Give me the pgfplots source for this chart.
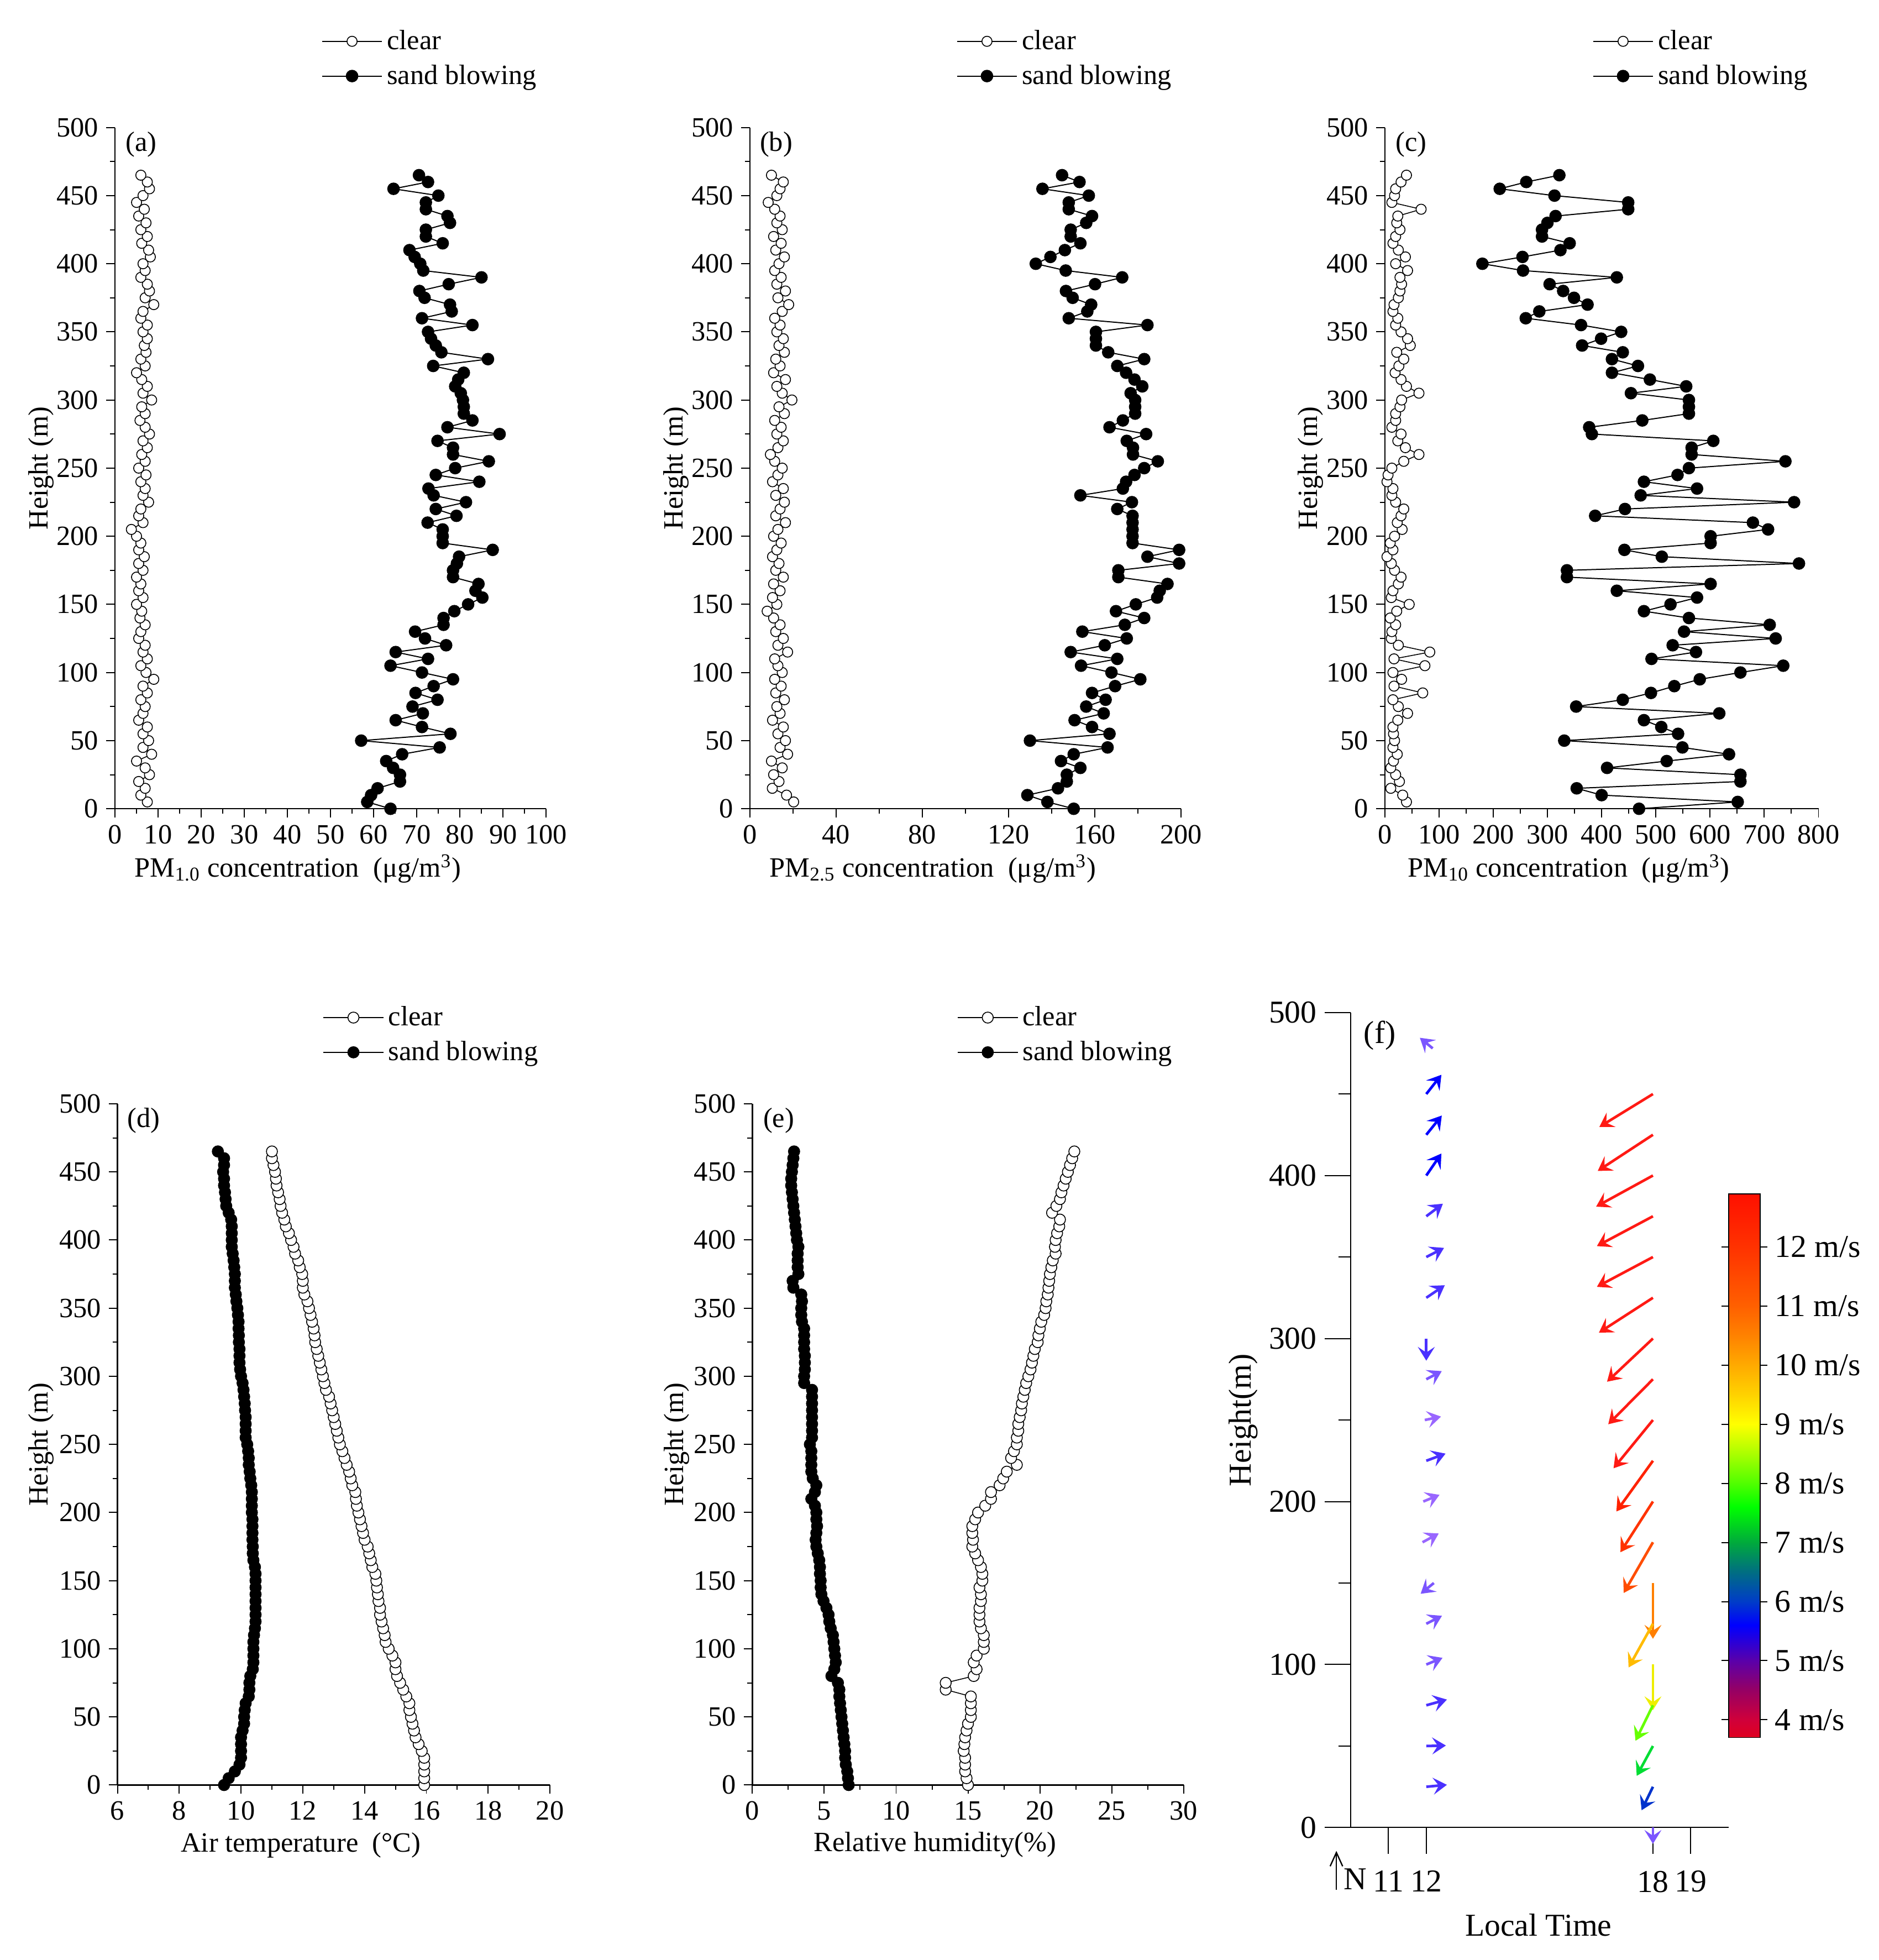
\documentclass[border=0pt]{standalone}
\usepackage{fontspec}
\setmainfont{Liberation Serif}
\usepackage{pgfplots}
\usepackage{pgfplotstable}
\pgfplotsset{compat=1.18}
\usetikzlibrary{arrows.meta}

\newcommand\fa{\fontsize{12.7}{15}\selectfont}
\newcommand\ff{\fontsize{14.5}{17}\selectfont}

\definecolor{wBlue}{RGB}{0,0,255}
\definecolor{wViol}{RGB}{74,48,255}
\definecolor{wLav}{RGB}{123,85,255}
\definecolor{wLite}{RGB}{153,102,255}
\definecolor{wR1}{RGB}{255,26,20}
\definecolor{wR2}{RGB}{255,34,0}
\definecolor{wR3}{RGB}{255,51,0}
\definecolor{wR4}{RGB}{255,77,0}
\definecolor{wOr}{RGB}{255,127,0}
\definecolor{wOY}{RGB}{255,187,0}
\definecolor{wYe}{RGB}{238,238,0}
\definecolor{wLi}{RGB}{102,255,0}
\definecolor{wGr}{RGB}{0,221,51}
\definecolor{wBl}{RGB}{0,51,204}

\pgfplotsset{
  /pgf/number format/assume math mode=true,
  /pgf/number format/1000 sep={},
  prof/.style={
    scale only axis, anchor=south west,
    width=69mm, height=109mm,
    axis lines=left, axis line style={-, line width=0.6pt},
    ymin=0, ymax=500, ytick={0,50,...,500},
    minor x tick num=1, minor y tick num=1,
    tick align=outside, major tick length=1.4mm, minor tick length=0.8mm,
    tick style={black, line width=0.5pt},
    font=\fa, tick label style={font=\fa}, label style={font=\fa},
    ylabel={Height (m)},
    ylabel style={at={(axis description cs:-0.171,0.5)}, anchor=center},
    xlabel style={at={(axis description cs:0.424,-0.088)}, anchor=center},
    legend style={draw=none, fill=none, at={(0.478,1.101)}, anchor=west,
      font=\fa, row sep=1.5pt, inner sep=0pt},
    legend cell align=left,
    legend image code/.code={\draw[mark repeat=2,mark phase=2,##1]
      plot coordinates {(0mm,0mm) (4.8mm,0mm) (9.6mm,0mm)};},
    clip=false,
  },
  clr/.style={black, line width=0.4pt, mark=*, mark size=2.3pt,
    mark options={fill=white, line width=0.4pt}},
  snd/.style={black, line width=0.5pt, mark=*, mark size=2.6pt,
    mark options={fill=black}},
  wind/.style={quiver={u=\thisrow{u},v=\thisrow{v}},
    -{Stealth[length=2.2mm,width=2.7mm,inset=0.9mm]}, line width=1.2pt},
}

% PM1.0 profiles: height, clear, sand blowing
\pgfplotstableread{
h c s
0 nan 63.9
5 7.5 58.5
10 6.0 59.4
15 7.0 60.9
20 5.5 66.1
25 8.0 66.1
30 7.0 64.5
35 5.0 62.9
40 8.5 66.6
45 6.5 75.3
50 7.8 57.1
55 6.5 77.8
60 7.5 71.2
65 5.5 65.1
70 6.5 71.4
75 7.0 69.0
80 6.0 74.8
85 7.5 69.7
90 6.5 73.9
95 9.0 78.4
100 7.2 71.2
105 6.0 63.9
110 7.5 72.6
115 6.5 65.1
120 7.0 76.8
125 5.5 71.9
130 6.0 69.6
135 7.0 76.2
140 5.8 76.2
145 6.2 78.7
150 5.0 81.9
155 6.5 85.2
160 5.5 83.6
165 6.0 84.3
170 5.0 78.4
175 6.5 78.4
180 5.5 79.3
185 6.8 79.8
190 5.5 87.6
195 6.0 76.0
200 5.0 76.0
205 3.8 76.0
210 6.5 72.5
215 5.5 79.2
220 6.0 74.4
225 7.8 81.4
230 6.5 73.9
235 7.0 72.7
240 6.0 84.5
245 7.2 74.4
250 5.5 78.9
255 7.0 86.7
260 6.2 78.4
265 7.5 78.4
270 6.5 74.8
275 8.0 89.2
280 7.0 77.1
285 5.8 82.9
290 7.0 80.9
295 6.2 80.9
300 8.5 80.7
305 6.5 80.2
310 7.5 78.9
315 6.2 79.6
320 5.0 80.9
325 7.0 73.8
330 6.0 86.5
335 7.2 75.7
340 6.8 74.4
345 7.5 73.3
350 6.5 72.6
355 7.5 82.9
360 6.0 71.2
365 6.5 78.1
370 9.0 77.7
375 7.0 71.8
380 8.0 70.6
385 7.5 77.4
390 6.0 85.0
395 7.0 71.5
400 6.5 70.8
405 8.2 69.5
410 7.8 68.3
415 6.2 76.0
420 7.5 72.1
425 6.0 72.1
430 7.2 77.7
435 5.5 77.1
440 6.8 72.1
445 5.0 72.1
450 6.5 75.0
455 8.0 64.6
460 7.5 72.6
465 6.0 70.5
}\tabA

% PM2.5
\pgfplotstableread{
h c s
0 nan 150.2
5 20.3 138.0
10 17.0 128.7
15 10.4 142.9
20 13.5 147.0
25 11.0 147.0
30 15.0 153.3
35 10.0 144.3
40 17.5 150.2
45 14.0 165.9
50 16.5 129.9
55 13.0 166.8
60 15.5 158.7
65 10.5 150.6
70 14.0 164.1
75 12.5 156.0
80 16.0 165.0
85 12.0 158.7
90 14.5 169.4
95 11.5 181.1
100 15.0 167.7
105 13.0 153.6
110 11.5 170.4
115 17.5 148.8
120 13.0 164.6
125 15.5 174.8
130 12.0 154.2
135 14.0 173.9
140 11.0 182.9
145 8.0 169.8
150 12.5 179.0
155 10.5 188.9
160 14.0 190.1
165 11.0 193.7
170 15.5 170.9
175 12.0 170.9
180 13.5 199.1
185 10.5 184.4
190 12.5 199.1
195 14.5 177.5
200 11.0 177.5
205 13.0 177.5
210 16.5 177.5
215 12.0 177.5
220 14.0 170.4
225 16.0 177.2
230 12.0 153.3
235 15.5 173.0
240 10.5 174.5
245 13.0 178.4
250 15.0 182.9
255 11.5 189.2
260 9.5 177.7
265 13.0 177.7
270 15.5 174.8
275 12.5 183.8
280 14.5 166.8
285 11.5 173.0
290 16.0 178.7
295 13.5 178.7
300 19.5 178.7
305 15.0 176.6
310 12.5 182.0
315 16.5 178.4
320 11.0 174.5
325 14.0 170.4
330 12.0 182.9
335 16.0 166.2
340 13.5 160.5
345 15.5 160.5
350 12.5 160.5
355 14.0 184.4
360 11.5 147.9
365 15.0 156.5
370 18.0 158.3
375 13.0 149.7
380 16.5 146.6
385 12.5 160.1
390 14.5 172.7
395 11.5 146.5
400 13.5 132.6
405 16.0 139.4
410 12.0 146.1
415 14.5 153.3
420 11.0 148.8
425 15.0 148.8
430 12.5 156.0
435 14.0 158.7
440 11.5 147.9
445 8.5 147.9
450 12.5 157.2
455 14.0 135.7
460 15.5 152.9
465 10.0 144.8
}\tabB

% PM10
\pgfplotstableread{
h c s
0 nan 469
5 40 651
10 33 400
15 11 354
20 27 656
25 20 656
30 11 410
35 16 520
40 23 635
45 15 549
50 18 331
55 16 541
60 15 510
65 24 478
70 42 617
75 25 353
80 15 439
85 70 491
90 17 534
95 31 581
100 15 656
105 74 735
110 17 492
115 83 574
120 25 531
125 12 721
130 13 552
135 20 710
140 10 561
145 22 478
150 45 527
155 12 576
160 15 428
165 25 601
170 30 336
175 18 336
180 12 764
185 4 511
190 15 442
195 10 601
200 18 601
205 32 707
210 23 679
215 30 388
220 35 443
225 20 755
230 13 472
235 15 576
240 4 478
245 6 540
250 13 561
255 35 739
260 63 566
265 38 566
270 24 606
275 30 382
280 13 377
285 20 475
290 20 561
295 28 561
300 31 561
305 63 454
310 40 556
315 30 489
320 19 419
325 26 467
330 35 419
335 22 439
340 47 364
345 42 399
350 30 436
355 20 362
360 24 260
365 15 285
370 17 374
375 25 349
380 28 329
385 31 304
390 28 428
395 42 255
400 20 180
405 38 254
410 25 324
415 15 341
420 20 290
425 28 290
430 22 300
435 24 315
440 67 449
445 13 449
450 18 313
455 20 212
460 30 261
465 40 322
}\tabC

% air temperature
\pgfplotstableread{
h c s
0 15.93 9.45
5 15.93 9.6
10 15.93 9.8
15 15.93 9.95
20 15.93 10.0
25 15.85 10.0
30 15.75 10.0
35 15.65 10.0
40 15.6 10.05
45 15.55 10.1
50 15.5 10.1
55 15.45 10.12
60 15.45 10.15
65 15.35 10.25
70 15.25 10.27
75 15.15 10.27
80 15.05 10.3
85 15.0 10.38
90 15.0 10.4
95 14.9 10.4
100 14.78 10.4
105 14.68 10.4
110 14.65 10.42
115 14.6 10.45
120 14.55 10.47
125 14.5 10.47
130 14.5 10.47
135 14.45 10.47
140 14.43 10.47
145 14.4 10.47
150 14.38 10.47
155 14.35 10.47
160 14.25 10.45
165 14.2 10.4
170 14.15 10.38
175 14.1 10.38
180 14.0 10.37
185 13.95 10.37
190 13.9 10.37
195 13.85 10.37
200 13.8 10.35
205 13.75 10.35
210 13.72 10.35
215 13.7 10.35
220 13.6 10.33
225 13.55 10.3
230 13.5 10.28
235 13.42 10.25
240 13.35 10.25
245 13.28 10.23
250 13.2 10.2
255 13.15 10.15
260 13.1 10.15
265 13.05 10.15
270 13.0 10.15
275 12.95 10.13
280 12.9 10.12
285 12.85 10.1
290 12.75 10.08
295 12.7 10.05
300 12.65 10.0
305 12.6 9.97
310 12.55 9.95
315 12.5 9.95
320 12.45 9.95
325 12.4 9.93
330 12.38 9.93
335 12.35 9.92
340 12.3 9.92
345 12.25 9.9
350 12.2 9.88
355 12.15 9.85
360 12.05 9.83
365 12.0 9.8
370 12.0 9.8
375 11.98 9.8
380 11.9 9.78
385 11.85 9.76
390 11.75 9.73
395 11.7 9.7
400 11.62 9.7
405 11.55 9.7
410 11.45 9.7
415 11.4 9.68
420 11.33 9.6
425 11.28 9.52
430 11.25 9.5
435 11.2 9.48
440 11.15 9.45
445 11.13 9.45
450 11.1 9.42
455 11.05 9.45
460 11.0 9.45
465 11.0 9.25
}\tabD

% relative humidity
\pgfplotstableread{
h c s
0 15.0 6.7
5 14.9 6.65
10 14.8 6.6
15 14.8 6.5
20 14.8 6.45
25 14.7 6.45
30 14.75 6.4
35 14.8 6.35
40 14.9 6.3
45 15.0 6.25
50 15.2 6.2
55 15.2 6.15
60 15.2 6.1
65 15.2 6.05
70 13.45 6.05
75 13.45 5.95
80 15.4 5.5
85 15.6 5.7
90 15.4 5.8
95 15.6 5.75
100 16.1 5.7
105 16.1 5.65
110 16.1 5.6
115 15.9 5.45
120 15.8 5.35
125 15.8 5.3
130 15.8 5.15
135 15.9 4.95
140 15.9 4.8
145 15.8 4.75
150 16.0 4.75
155 16.0 4.7
160 15.9 4.7
165 15.7 4.65
170 15.5 4.55
175 15.3 4.45
180 15.35 4.4
185 15.3 4.45
190 15.3 4.5
195 15.5 4.45
200 15.7 4.45
205 16.2 4.35
210 16.6 4.1
215 16.6 4.35
220 17.2 4.45
225 17.45 4.2
230 17.7 4.1
235 18.4 4.1
240 18.0 4.1
245 18.2 4.1
250 18.4 4.0
255 18.4 4.15
260 18.5 4.15
265 18.5 4.15
270 18.6 4.15
275 18.7 4.15
280 18.75 4.15
285 18.85 4.15
290 18.95 4.15
295 19.05 3.6
300 19.2 3.6
305 19.35 3.65
310 19.45 3.65
315 19.55 3.65
320 19.65 3.6
325 19.85 3.6
330 19.9 3.6
335 20.0 3.6
340 20.1 3.45
345 20.3 3.4
350 20.4 3.4
355 20.45 3.45
360 20.55 3.4
365 20.6 2.85
370 20.65 2.8
375 20.7 3.2
380 20.8 3.15
385 20.9 3.15
390 21.1 3.15
395 21.05 3.2
400 21.1 3.1
405 21.2 3.05
410 21.35 3.0
415 21.4 2.95
420 20.85 2.9
425 21.15 2.85
430 21.4 2.8
435 21.5 2.75
440 21.65 2.7
445 21.8 2.7
450 21.95 2.75
455 22.1 2.8
460 22.25 2.85
465 22.4 2.9
}\tabE

\begin{document}
\begin{tikzpicture}
\path[use as bounding box] (0,0) rectangle (300.6mm,-313.6mm);

% (a)
\begin{axis}[prof, at={(18.4mm,-129.4mm)}, xmin=0, xmax=100, xtick={0,10,...,100},
  xlabel={PM\textsubscript{1.0} concentration\ \ (μg/m\textsuperscript{3})}]
\addplot[clr] table[x=c, y=h] {\tabA};
\addplot[snd] table[x=s, y=h] {\tabA};
\legend{clear, sand blowing}
\node[font=\fa] at (axis description cs:0.061,0.975) {(a)};
\end{axis}

% (b)
\begin{axis}[prof, at={(120mm,-129.4mm)}, xmin=0, xmax=200, xtick={0,40,...,200},
  xlabel={PM\textsubscript{2.5} concentration\ \ (μg/m\textsuperscript{3})}]
\addplot[clr] table[x=c, y=h] {\tabB};
\addplot[snd] table[x=s, y=h] {\tabB};
\legend{clear, sand blowing}
\node[font=\fa] at (axis description cs:0.061,0.975) {(b)};
\end{axis}

% (c)
\begin{axis}[prof, at={(221.6mm,-129.4mm)}, width=69.4mm, xmin=0, xmax=800, xtick={0,100,...,800},
  xlabel={PM\textsubscript{10} concentration\ \ (μg/m\textsuperscript{3})}]
\addplot[clr] table[x=c, y=h] {\tabC};
\addplot[snd] table[x=s, y=h] {\tabC};
\legend{clear, sand blowing}
\node[font=\fa] at (axis description cs:0.061,0.975) {(c)};
\end{axis}

% (d)
\begin{axis}[prof, at={(18.8mm,-285.6mm)}, width=69.2mm, xmin=6, xmax=20, xtick={6,8,...,20},
  ylabel style={at={(axis description cs:-0.176,0.5)}},
  legend style={at={(0.474,1.101)}},
  xlabel={Air temperature\ \ (°C)}]
\addplot[clr, mark size=2.5pt] table[x=c, y=h] {\tabD};
\addplot[snd, mark size=2.5pt] table[x=s, y=h] {\tabD};
\legend{clear, sand blowing}
\node[font=\fa] at (axis description cs:0.061,0.975) {(d)};
\end{axis}

% (e)
\begin{axis}[prof, at={(120.4mm,-285.6mm)}, xmin=0, xmax=30, xtick={0,5,...,30},
  ylabel style={at={(axis description cs:-0.176,0.5)}},
  legend style={at={(0.474,1.101)}},
  xlabel={Relative humidity(\%)}]
\addplot[clr, mark size=2.5pt] table[x=c, y=h] {\tabE};
\addplot[snd, mark size=2.5pt] table[x=s, y=h] {\tabE};
\legend{clear, sand blowing}
\node[font=\fa] at (axis description cs:0.061,0.975) {(e)};
\end{axis}

% (f) wind vectors
\begin{axis}[at={(216.15mm,-292.4mm)}, anchor=south west, scale only axis,
  width=60.45mm, height=130.4mm,
  xmin=10, xmax=20, ymin=0, ymax=500,
  axis x line=bottom, axis y line=left, axis line style={-, line width=0.5pt},
  xtick={11,12,18,19}, ytick={0,100,...,500}, minor ytick={50,150,...,450},
  tick align=outside, major tick length=4.2mm, minor tick length=2mm,
  tick style={black, line width=0.5pt},
  font=\ff, tick label style={font=\ff}, label style={font=\ff},
  xticklabel shift=1.5mm,
  xlabel={Local Time}, ylabel={Height(m)},
  xlabel style={at={(axis description cs:0.497,-0.12)}, anchor=center},
  ylabel style={at={(axis description cs:-0.284,0.5)}, anchor=center},
  clip=false,
  colormap={wind}{rgb255(3.7cm)=(224,0,32) rgb255(4cm)=(208,0,58)
    rgb255(4.5cm)=(150,0,100) rgb255(5cm)=(90,0,170) rgb255(5.6cm)=(0,0,255)
    rgb255(6cm)=(0,60,200) rgb255(6.5cm)=(0,110,130) rgb255(7cm)=(0,170,60)
    rgb255(7.6cm)=(0,255,0) rgb255(8cm)=(80,255,0) rgb255(8.5cm)=(170,255,0)
    rgb255(9cm)=(255,255,0) rgb255(9.5cm)=(255,210,0) rgb255(10cm)=(255,170,0)
    rgb255(10.5cm)=(255,130,0) rgb255(11cm)=(255,96,0) rgb255(12cm)=(255,50,0)
    rgb255(12.9cm)=(255,16,0)},
  point meta min=3.7, point meta max=12.9,
  colorbar shift/.style={},
  colorbar,
  colorbar style={
    at={(parent axis.south east)}, anchor=south west, yshift=14.4mm,
    scale only axis, width=5.1mm, height=87mm,
    ytick={4,5,...,12}, yticklabel={\pgfmathprintnumber{\tick}\ m/s},
    yticklabel style={font=\ff},
    tick align=outside, major tick length=1.1mm,
    tick style={black, line width=0.5pt},
    axis line style={line width=0.5pt},
  },
]
\addplot[wind, wBlue] table {
x y u v
12 450 0.40 11.8
12 425 0.41 11.8
12 400 0.40 13.5
};
\addplot[wind, wViol] table {
x y u v
12 375 0.44 7.7
12 350 0.47 5.6
12 325 0.49 7.7
12 300 0 -13.6
12 225 0.51 4.4
12 75 0.546 3.5
12 50 0.52 0.3
12 25 0.546 1.2
};
\addplot[wind, wLav] table {
x y u v
12.17 478 -0.34 6.5
12 275 0.41 5
12.2 150 -0.35 -6.6
12 125 0.415 4.9
12 100 0.43 4.1
18 0 0 -10
};
\addplot[wind, wLite] table {
x y u v
11.96 250 0.43 2.1
11.92 200 0.43 4.1
11.9 175 0.43 5.4
};
\addplot[wind, wR1] table {
x y u v
18 450 -1.419 -20.2
18 425 -1.462 -22.2
18 400 -1.505 -19.1
18 375 -1.484 -18.3
18 350 -1.484 -18.3
18 325 -1.430 -21.4
18 300 -1.215 -26.5
18 275 -1.183 -27.6
18 250 -1.043 -29.6
};
\addplot[wind, wR2] table[row sep=\\] {x y u v\\ 18 225 -0.968 -31.1\\};
\addplot[wind, wR3] table[row sep=\\] {x y u v\\ 18 200 -0.860 -31.1\\};
\addplot[wind, wR4] table[row sep=\\] {x y u v\\ 18 175 -0.774 -31.1\\};
\addplot[wind, wOr] table[row sep=\\] {x y u v\\ 18 150 0 -34.2\\};
\addplot[wind, wOY] table[row sep=\\] {x y u v\\ 18 125 -0.645 -26.8\\};
\addplot[wind, wYe] table[row sep=\\] {x y u v\\ 18 100 0 -28\\};
\addplot[wind, wLi] table[row sep=\\] {x y u v\\ 18 75 -0.462 -21.8\\};
\addplot[wind, wGr] table[row sep=\\] {x y u v\\ 18 50 -0.43 -18.3\\};
\addplot[wind, wBl] table[row sep=\\] {x y u v\\ 18 25 -0.30 -14.4\\};
\draw[line width=0.5pt] (axis cs:9.32,0) -- (axis cs:10,0);
\node[font=\ff] at (axis description cs:0.077,0.972) {(f)};
\draw[line width=0.6pt, -{Straight Barb[length=2.2mm,width=2mm]}]
  (axis description cs:-0.038,-0.0761) -- (axis description cs:-0.038,-0.0287);
\node[font=\ff, anchor=base west, inner sep=0pt] at (axis description cs:-0.02,-0.0761) {N};
\end{axis}
\end{tikzpicture}
\end{document}
